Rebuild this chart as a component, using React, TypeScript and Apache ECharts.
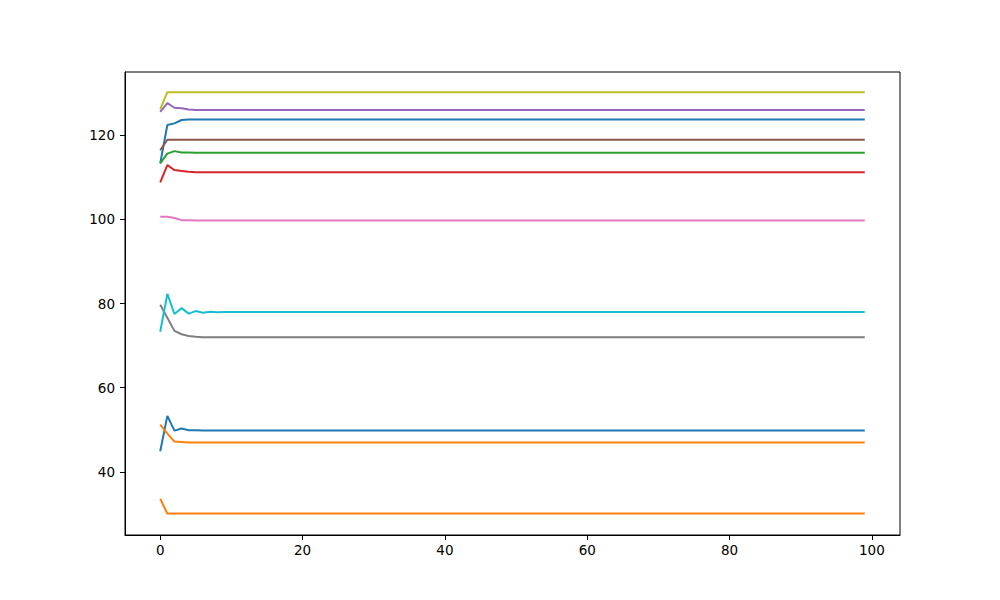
import React, { useEffect, useRef } from "react";
import * as echarts from "echarts";

const N = 100;
const xValues: number[] = Array.from({ length: N }, (_, i) => i);

const blueTopStart = [113.3, 122.4, 122.8, 123.6, 123.7];
const blueTopLevel = 123.7;
const orangeLowStart = [33.6, 30.1];
const orangeLowLevel = 30.1;
const greenStart = [113.3, 115.6, 116.2, 115.9, 115.9];
const greenLevel = 115.8;
const redStart = [108.8, 112.9, 111.7, 111.5, 111.3];
const redLevel = 111.2;
const purpleStart = [125.5, 127.6, 126.5, 126.4, 126.1];
const purpleLevel = 126.0;
const brownStart = [116.4, 118.9];
const brownLevel = 118.9;
const pinkStart = [100.6, 100.6, 100.3, 99.8, 99.8];
const pinkLevel = 99.7;
const grayStart = [79.7, 76.6, 73.5, 72.7, 72.3, 72.1];
const grayLevel = 72.0;
const oliveStart = [126.1, 130.2];
const oliveLevel = 130.2;
const cyanStart = [73.3, 82.3, 77.5, 78.9, 77.6, 78.2, 77.8, 78.05, 77.9];
const cyanLevel = 78.0;
const blueLowStart = [44.9, 53.3, 49.8, 50.3, 49.9, 49.9];
const blueLowLevel = 49.8;
const orangeMidStart = [51.2, 49.1, 47.2, 47.1];
const orangeMidLevel = 47.0;

const xTickLabels = [0, 20, 40, 60, 80, 100];
const yTickLabels = [40, 60, 80, 100, 120];

const build = (start: number[], level: number): number[] =>
  xValues.map((i) => (i < start.length ? start[i] : level));

const seriesDefs: { data: number[]; color: string }[] = [
  { data: build(blueTopStart, blueTopLevel), color: "#1f77b4" },
  { data: build(orangeLowStart, orangeLowLevel), color: "#ff7f0e" },
  { data: build(greenStart, greenLevel), color: "#2ca02c" },
  { data: build(redStart, redLevel), color: "#d62728" },
  { data: build(purpleStart, purpleLevel), color: "#9467bd" },
  { data: build(brownStart, brownLevel), color: "#8c564b" },
  { data: build(pinkStart, pinkLevel), color: "#e377c2" },
  { data: build(grayStart, grayLevel), color: "#7f7f7f" },
  { data: build(oliveStart, oliveLevel), color: "#bcbd22" },
  { data: build(cyanStart, cyanLevel), color: "#17becf" },
  { data: build(blueLowStart, blueLowLevel), color: "#1f77b4" },
  { data: build(orangeMidStart, orangeMidLevel), color: "#ff7f0e" },
];

export default function App() {
  const ref = useRef<HTMLDivElement>(null);
  useEffect(() => {
    if (!ref.current) return;
    const chart = echarts.init(ref.current, null, { renderer: "svg" });
    const font = "DejaVu Sans";
    chart.setOption({
      animation: false,
      backgroundColor: "#ffffff",
      grid: {
        left: 125,
        right: 100,
        top: 72,
        bottom: 65,
        show: true,
        borderColor: "#000",
        borderWidth: 1,
        backgroundColor: "transparent",
      },
      xAxis: {
        type: "value",
        min: -4.95,
        max: 103.95,
        axisLine: { show: true, onZero: false, lineStyle: { color: "#000", width: 1 } },
        axisTick: {
          show: true,
          length: 5,
          inside: false,
          customValues: xTickLabels,
          lineStyle: { color: "#000", width: 1 },
        },
        axisLabel: {
          customValues: xTickLabels,
          color: "#000",
          fontSize: 13.5,
          fontFamily: font,
          margin: 8,
        },
        splitLine: { show: false },
      },
      yAxis: {
        type: "value",
        min: 25,
        max: 135,
        axisLine: { show: true, onZero: false, lineStyle: { color: "#000", width: 1 } },
        axisTick: {
          show: true,
          length: 5,
          inside: false,
          customValues: yTickLabels,
          lineStyle: { color: "#000", width: 1 },
        },
        axisLabel: {
          customValues: yTickLabels,
          color: "#000",
          fontSize: 13.5,
          fontFamily: font,
          margin: 10,
        },
        splitLine: { show: false },
      },
      series: seriesDefs.map((s) => ({
        type: "line",
        data: s.data.map((v, i) => [xValues[i], v]),
        showSymbol: false,
        symbol: "none",
        lineStyle: { color: s.color, width: 2 },
        itemStyle: { color: s.color },
      })),
    });
    return () => chart.dispose();
  }, []);
  return (
    <div
      ref={ref}
      style={{ position: "fixed", left: 0, top: 0, width: 1000, height: 600, background: "#fff" }}
    />
  );
}
